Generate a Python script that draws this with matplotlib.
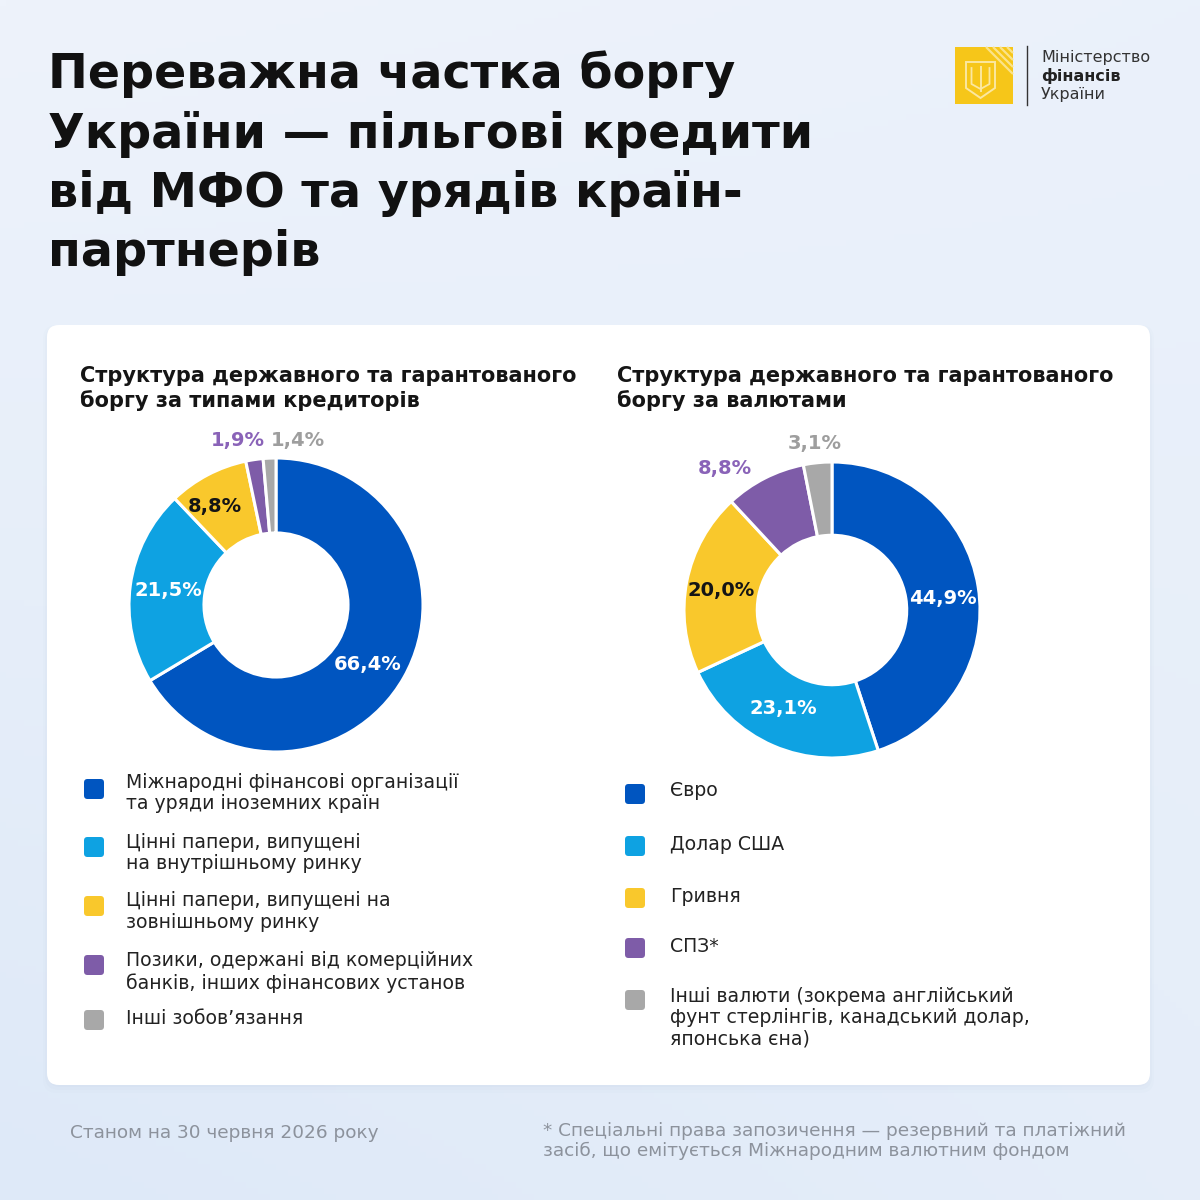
import numpy as np
import matplotlib
matplotlib.use("Agg")
import matplotlib.pyplot as plt
from matplotlib.patches import FancyBboxPatch, Rectangle, Polygon

plt.rcParams['font.family'] = ['DejaVu Sans']

# ---------------- data ----------------
title_lines = ["Переважна частка боргу",
               "України — пільгові кредити",
               "від МФО та урядів країн-",
               "партнерів"]

left_title = ["Структура державного та гарантованого", "боргу за типами кредиторів"]
creditor_labels = ["Міжнародні фінансові організації\nта уряди іноземних країн",
                   "Цінні папери, випущені\nна внутрішньому ринку",
                   "Цінні папери, випущені на\nзовнішньому ринку",
                   "Позики, одержані від комерційних\nбанків, інших фінансових установ",
                   "Інші зобов’язання"]
creditor_values = [66.4, 21.5, 8.8, 1.9, 1.4]

right_title = ["Структура державного та гарантованого", "боргу за валютами"]
currency_labels = ["Євро",
                   "Долар США",
                   "Гривня",
                   "СПЗ*",
                   "Інші валюти (зокрема англійський\nфунт стерлінгів, канадський долар,\nяпонська єна)"]
currency_values = [44.9, 23.1, 20.0, 8.8, 3.1]

footer_left = "Станом на 30 червня 2026 року"
footer_right = "* Спеціальні права запозичення — резервний та платіжний\nзасіб, що емітується Міжнародним валютним фондом"
logo_lines = ["Міністерство", "фінансів", "України"]

# ---------------- style ----------------
colors = ["#0055C0", "#0EA2E2", "#F9C82C", "#7E5CA8", "#A8A8A8"]
label_colors = ["white", "white", "#151515", "#8A63B8", "#9E9E9E"]
# (radius factor, angle nudge in degrees) for each value label
label_pos_left = [(0.74, -3.5), (0.74, 0.0), (0.79, 4.0), (1.15, 4.5), (1.13, -10.0)]
label_pos_right = [(0.755, -3.0), (0.74, -3.0), (0.76, 1.0), (1.20, 10.0), (1.13, 0.5)]

W = H = 1200
fig = plt.figure(figsize=(12, 12), dpi=100)

bg = fig.add_axes([0, 0, 1, 1])
bg.set_xlim(0, W)
bg.set_ylim(H, 0)
bg.axis("off")

# background gradient
yy, xx = np.mgrid[0:1:200j, 0:1:200j]
c_top = np.array([0xEE, 0xF3, 0xFB]) / 255
c_bot = np.array([0xDE, 0xE9, 0xF8]) / 255
t = (0.55 * yy + 0.45 * (1 - xx) * yy + 0.2 * xx * (1 - yy))
t = np.clip(t, 0, 1)[..., None]
img = c_top * (1 - t) + c_bot * t
bg.imshow(img, extent=[0, W, H, 0], aspect="auto", zorder=0)

# card with soft shadow
for i, a in enumerate([0.025, 0.02, 0.015]):
    sh = FancyBboxPatch((47 - 2 * i, 327 - 1 * i), 1103 + 4 * i, 760 + 4 * i,
                        boxstyle="round,pad=0,rounding_size=14",
                        fc="#6080b0", ec="none", alpha=a, zorder=1)
    bg.add_patch(sh)
card = FancyBboxPatch((47, 325), 1103, 760, boxstyle="round,pad=0,rounding_size=12",
                      fc="white", ec="none", zorder=2)
bg.add_patch(card)

# title
for i, line in enumerate(title_lines):
    bg.text(48, 88 + i * 59.5, line, fontsize=34.3, fontweight="bold",
            color="#111111", va="baseline", ha="left", zorder=3)

# logo
bg.add_patch(Rectangle((955, 47), 58, 57, fc="#F6C619", ec="none", zorder=3))
for k in range(4):
    off = 8 + k * 7
    bg.plot([1013 - off + 2, 1013], [47, 47 + off - 2], color="#FBE38A", lw=1.6, zorder=4,
            solid_capstyle="butt")
shield = Polygon([[966, 62], [995, 62], [995, 88], [980.5, 98], [966, 88]],
                 closed=True, fc="none", ec="#FBE7A0", lw=1.4, zorder=4)
bg.add_patch(shield)
bg.plot([980.5, 980.5], [67, 91], color="#FBE7A0", lw=1.4, zorder=4)
bg.plot([971.5, 971.5, 980.5, 989.5, 989.5], [68, 84, 89, 84, 68], color="#FBE7A0", lw=1.3, zorder=4)
bg.plot([1027, 1027], [46, 105], color="#333333", lw=1.0, zorder=4)
bg.text(1041, 57, logo_lines[0], fontsize=11.5, color="#333333", va="center", ha="left", zorder=4)
bg.text(1041, 76, logo_lines[1], fontsize=11.5, fontweight="bold", color="#222222", va="center", ha="left", zorder=4)
bg.text(1041, 94, logo_lines[2], fontsize=11.5, color="#333333", va="center", ha="left", zorder=4)

# subtitles
for i, line in enumerate(left_title):
    bg.text(80, 376 + i * 25, line, fontsize=15.0, fontweight="bold", color="#151515",
            va="center", ha="left", zorder=3)
for i, line in enumerate(right_title):
    bg.text(617, 376 + i * 25, line, fontsize=15.0, fontweight="bold", color="#151515",
            va="center", ha="left", zorder=3)


def fmt(v):
    return f"{v:.1f}".replace(".", ",") + "%"


def donut(cx, cy, r, values, label_pos, inner_frac):
    half = 1.5 * r
    ax = fig.add_axes([(cx - half) / W, (H - cy - half) / H, 2 * half / W, 2 * half / H])
    wedges, _ = ax.pie(values, colors=colors, startangle=90, counterclock=False, radius=1.0,
                       wedgeprops=dict(width=1 - inner_frac, edgecolor="white", linewidth=2.2))
    ax.set_xlim(-1.5, 1.5)
    ax.set_ylim(-1.5, 1.5)
    ax.set_aspect("equal")
    ax.axis("off")
    for w, v, (rf, dang), col in zip(wedges, values, label_pos, label_colors):
        mid = np.deg2rad((w.theta1 + w.theta2) / 2 + dang)
        ax.text(rf * np.cos(mid), rf * np.sin(mid), fmt(v), fontsize=14, fontweight="bold",
                color=col, ha="center", va="center")
    return ax


donut(276, 605, 147, creditor_values, label_pos_left, 0.49)
donut(832, 610, 148, currency_values, label_pos_right, 0.505)


def legend(x_sq, x_txt, sq_ys, txt_ys, labels):
    for y, ty, lab, col in zip(sq_ys, txt_ys, labels, colors):
        bg.add_patch(FancyBboxPatch((x_sq - 10, y - 10), 20, 20,
                                    boxstyle="round,pad=0,rounding_size=3.5",
                                    fc=col, ec="none", zorder=3))
        bg.text(x_txt, ty - 10.5, lab, fontsize=13.6, color="#222222", va="top", ha="left",
                linespacing=1.18, zorder=3)


legend(94, 126, [789, 847, 906, 965, 1020], [783, 843, 902, 962, 1020], creditor_labels)
legend(635, 670, [794, 846, 898, 948, 1000], [792, 846, 898, 948, 997], currency_labels)

# footer
bg.text(70, 1133, footer_left, fontsize=13.3, color="#8C929C", va="center", ha="left", zorder=3)
bg.text(543, 1122.5, footer_right, fontsize=13.3, color="#8C929C", va="top", ha="left",
        linespacing=1.12, zorder=3)

fig.savefig("out.png", dpi=100)
